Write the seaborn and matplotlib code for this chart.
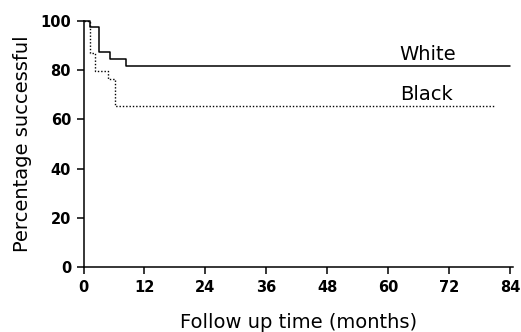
import matplotlib
matplotlib.use("Agg")
import matplotlib.pyplot as plt
import seaborn as sns
import pandas as pd

# Data (Kaplan-Meier style step curves)
white_time = [0, 1.2, 3.1, 5.2, 8.3, 84]
white_pct = [100, 97.5, 87.2, 84.5, 81.7, 81.7]
black_time = [0, 1.3, 2.3, 4.8, 6.1, 81]
black_pct = [100, 87.0, 79.5, 76.5, 65.5, 65.5]

x_ticks = [0, 12, 24, 36, 48, 60, 72, 84]
y_ticks = [0, 20, 40, 60, 80, 100]

sns.set_style("ticks")
plt.rcParams["font.family"] = ["DejaVu Sans"]

white_df = pd.DataFrame({"time": white_time, "pct": white_pct})
black_df = pd.DataFrame({"time": black_time, "pct": black_pct})

fig = plt.figure(figsize=(5.21, 3.32), dpi=100)
ax = fig.add_axes([83.5 / 521, 65 / 332, 429.5 / 521, 246 / 332])

sns.lineplot(data=white_df, x="time", y="pct", ax=ax, color="black",
             linewidth=1.1, drawstyle="steps-post", clip_on=False)
sns.lineplot(data=black_df, x="time", y="pct", ax=ax, color="black",
             linewidth=1.0, linestyle=(0, (1, 1.4)), drawstyle="steps-post",
             clip_on=False)

ax.set_xlim(0, 84.5)
ax.set_ylim(0, 100)
ax.set_xticks(x_ticks)
ax.set_yticks(y_ticks)
ax.tick_params(axis="both", labelsize=10.5, length=5, width=1.1, color="black",
               labelcolor="black", pad=4)
for lab in ax.get_xticklabels() + ax.get_yticklabels():
    lab.set_fontweight("bold")
for s in ["top", "right"]:
    ax.spines[s].set_visible(False)
for s in ["left", "bottom"]:
    ax.spines[s].set_linewidth(1.1)
    ax.spines[s].set_color("black")

ax.set_xlabel("Follow up time (months)", fontsize=14, labelpad=13, color="black")
ax.set_ylabel("Percentage successful", fontsize=14, labelpad=6, color="black")

ax.text(62.2, 84.2, "White", fontsize=14, color="black", ha="left", va="baseline")
ax.text(62.2, 68.0, "Black", fontsize=14, color="black", ha="left", va="baseline")

fig.savefig("out.png", dpi=100)
